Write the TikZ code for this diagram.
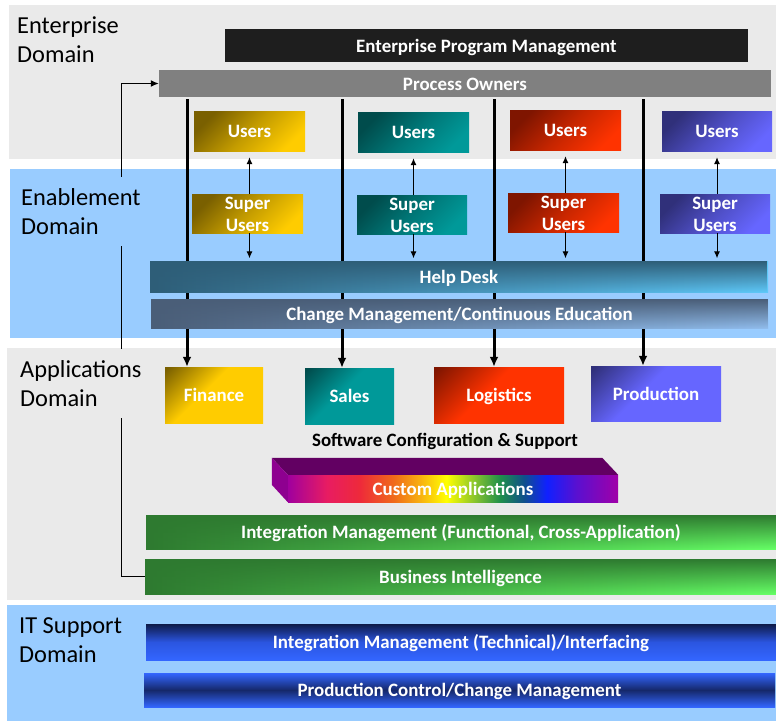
\documentclass[tikz,border=0pt]{standalone}
\usepackage{fontspec}
\setmainfont{Carlito}
\usetikzlibrary{arrows.meta,fadings}

\definecolor{bggrey}{HTML}{EAEAEA}
\definecolor{bgblue}{HTML}{99CCFF}
\definecolor{epmblack}{HTML}{1E1E1E}
\definecolor{pogrey}{HTML}{808080}
\definecolor{golddark}{HTML}{7A6000}
\definecolor{goldlight}{HTML}{FFCC00}
\definecolor{tealdark}{HTML}{004C4C}
\definecolor{teallight}{HTML}{009999}
\definecolor{reddark}{HTML}{7F1500}
\definecolor{redlight}{HTML}{FF3300}
\definecolor{bluedark}{HTML}{30307A}
\definecolor{bluelight}{HTML}{6666FF}
\definecolor{hddark}{HTML}{2E5E78}
\definecolor{hdlight}{HTML}{5EC8F8}
\definecolor{cmdark}{HTML}{4A5E78}
\definecolor{cmlight}{HTML}{90BCEC}
\definecolor{grdark}{HTML}{2E7A30}
\definecolor{grlight}{HTML}{66FF66}
\definecolor{itdark}{HTML}{0E1A48}
\definecolor{itmid}{HTML}{2B55E0}
\definecolor{itlight}{HTML}{3366FF}
\definecolor{pcdark}{HTML}{15286A}
\definecolor{catop}{HTML}{620062}
\definecolor{caside}{HTML}{8E0090}
\definecolor{rb1}{HTML}{A0009E}
\definecolor{rb2}{HTML}{E81C62}
\definecolor{rb3}{HTML}{EE2A3A}
\definecolor{rb4}{HTML}{F06A1A}
\definecolor{rb5}{HTML}{F8B010}
\definecolor{rb6}{HTML}{FFFF00}
\definecolor{rb7}{HTML}{80C030}
\definecolor{rb8}{HTML}{20904A}
\definecolor{rb9}{HTML}{10508A}
\definecolor{rb10}{HTML}{1020FF}
\definecolor{rb11}{HTML}{5A10D0}
\definecolor{rb12}{HTML}{A000A8}

\pgfdeclarehorizontalshading{rainbow}{100bp}{color(0bp)=(rb1); color(25bp)=(rb1);
 color(30.9bp)=(rb2); color(35.9bp)=(rb3); color(41bp)=(rb4); color(45bp)=(rb5);
 color(49bp)=(rb6); color(53.6bp)=(rb7); color(57.1bp)=(rb8); color(60.7bp)=(rb9);
 color(64.2bp)=(rb10); color(68.7bp)=(rb11); color(75bp)=(rb12); color(100bp)=(rb12)}

% application boxes: dark corner at top left, bright elsewhere
\pgfdeclareverticalshading{appgold}{100bp}{color(0bp)=(goldlight); color(56bp)=(goldlight);
 color(70bp)=(golddark!50!goldlight); color(84bp)=(golddark); color(100bp)=(golddark)}
\pgfdeclareverticalshading{appteal}{100bp}{color(0bp)=(teallight); color(56bp)=(teallight);
 color(70bp)=(tealdark!50!teallight); color(84bp)=(tealdark); color(100bp)=(tealdark)}
\pgfdeclareverticalshading{appred}{100bp}{color(0bp)=(redlight); color(56bp)=(redlight);
 color(70bp)=(reddark!50!redlight); color(84bp)=(reddark); color(100bp)=(reddark)}
\pgfdeclareverticalshading{appblue}{100bp}{color(0bp)=(bluelight); color(56bp)=(bluelight);
 color(70bp)=(bluedark!50!bluelight); color(84bp)=(bluedark); color(100bp)=(bluedark)}

\tikzfading[name=topshade, top color=transparent!0, middle color=transparent!60, bottom color=transparent!100]

\begin{document}
\begin{tikzpicture}[x=1pt,y=-1pt,
  lblbase/.style={font=\fontsize{18.9}{22}\selectfont\bfseries, text=white, inner sep=0pt},
  lbl/.style={lblbase, text height=15.5pt, text depth=2.5pt},
  lbltwo/.style={lblbase, align=center},
  dom/.style={font=\fontsize{24.4}{29}\selectfont, text=black, align=left, inner xsep=0pt, inner ysep=0pt, anchor=west},
  diag/.style 2 args={top color=#1, bottom color=#2, middle color=#1!45!#2, shading angle=45},
  appdiag/.style={shade, shading=#1, shading angle=45},
  hbar/.style 2 args={left color=#1, right color=#2,
    path picture={\fill[#1, path fading=topshade, fit fading=true] (path picture bounding box.north west) rectangle (path picture bounding box.south east);}},
  thickarr/.style={line width=3pt, -{Latex[length=10pt,width=9pt]}, shorten <=2pt},
  sarr/.style={line width=1pt, -{Latex[length=7pt,width=6pt]}},
  conn/.style={line width=1.3pt, -{Latex[length=8pt,width=7pt]}}
]
\useasboundingbox (0,0) rectangle (776,721);
\fill[white] (0,0) rectangle (776,721);

% domain backgrounds
\fill[bggrey] (9,5) rectangle (776,159);
\fill[bgblue] (10,169) rectangle (776,338);
\fill[bggrey] (7,348) rectangle (776,600);
\fill[bgblue] (7,605) rectangle (776,721);

% enterprise domain
\node[lbl, fill=epmblack, minimum width=523, minimum height=33] (epm) at (486.5,45.5) {Enterprise Program Management};
\node[lbl, fill=pogrey, minimum width=612, minimum height=27] (po) at (465,83.5) {Process Owners};

\node[lbl, diag={golddark}{goldlight}, minimum width=111, minimum height=40] (u1) at (249.5,131) {Users};
\node[lbl, diag={tealdark}{teallight}, minimum width=111, minimum height=40] (u2) at (413.5,132) {Users};
\node[lbl, diag={reddark}{redlight}, minimum width=111, minimum height=40] (u3) at (565.5,130) {Users};
\node[lbl, diag={bluedark}{bluelight}, minimum width=110, minimum height=40] (u4) at (717,131) {Users};

% enablement domain
\node[lbltwo, diag={golddark}{goldlight}, minimum width=111, minimum height=39] (su1) at (247.5,213.5) {\rule{0pt}{15pt}Super\\Users};
\node[lbltwo, diag={tealdark}{teallight}, minimum width=110, minimum height=39] (su2) at (412,214.5) {\rule{0pt}{15pt}Super\\Users};
\node[lbltwo, diag={reddark}{redlight}, minimum width=111, minimum height=39] (su3) at (563.5,212.5) {\rule{0pt}{15pt}Super\\Users};
\node[lbltwo, diag={bluedark}{bluelight}, minimum width=110, minimum height=39] (su4) at (715,213.5) {\rule{0pt}{15pt}Super\\Users};

% applications domain
\node[lbl, appdiag=appgold, minimum width=98, minimum height=56] (fin) at (214,395) {Finance};
\node[lbl, appdiag=appteal, minimum width=89, minimum height=56] (sal) at (349.5,396) {Sales};
\node[lbl, appdiag=appred, minimum width=130, minimum height=56] (logi) at (499,395) {Logistics};
\node[lbl, appdiag=appblue, minimum width=130, minimum height=55] (prod) at (656,393.5) {Production};

\node[lbl, text=black] (scs) at (445,440) {Software Configuration \& Support};

\node[lbl, shade, shading=rainbow, minimum width=330, minimum height=27] (ca) at (453,488.5) {Custom Applications};
\fill[catop] (ca.north west) -- (ca.north east) -- ++(-16,-17) -- ([shift={(-16,-17)}]ca.north west) -- cycle;
\fill[caside] (ca.north west) -- ++(-16,-17) -- ++(0,27) -- (ca.south west) -- cycle;

\node[lbl, hbar={grdark}{grlight}, minimum width=630, minimum height=34] (ima) at (461,532) {Integration Management (Functional, Cross-Application)};
\node[lbl, hbar={grdark}{grlight}, minimum width=631, minimum height=35] (bi) at (460.5,576.5) {Business Intelligence};

% IT support domain
\node[lbl, top color=itdark, bottom color=itlight, middle color=itmid, minimum width=630, minimum height=36] (imt) at (461,642) {Integration Management (Technical)/Interfacing};
\node[lbl, top color=itlight, bottom color=itlight, middle color=pcdark, minimum width=631, minimum height=34] (pcc) at (459.5,690) {Production Control/Change Management};

% left feedback connector
\draw[conn] (bi.west) -- ++(-23,0) |- (po.west);

% domain labels
\node[dom] (lent) at (17,40) {Enterprise\\Domain};
\node[dom, fill=bgblue, minimum height=69] (lena) at (21,211.5) {Enablement\\Domain};
\node[dom, fill=bggrey, minimum height=69] (lapp) at (20,383.5) {Applications\\Domain};
\node[dom] (lit) at (19,640) {IT Support\\Domain};

% process owner lines
\coordinate (x1) at (187,0);
\coordinate (x2) at (342,0);
\coordinate (x3) at (494,0);
\coordinate (x4) at (643,0);
\draw[thickarr] (po.south -| x1) -- (x1 |- fin.north);
\draw[thickarr] (po.south -| x2) -- (x2 |- sal.north);
\draw[thickarr] (po.south -| x3) -- (x3 |- logi.north);
\draw[thickarr] (po.south -| x4) -- (x4 |- prod.north);

% help desk and change management bars (over the lines)
\node[lbl, hbar={hddark}{hdlight}, minimum width=618, minimum height=31] (hd) at (459,276.5) {Help Desk};
\node[lbl, hbar={cmdark}{cmlight}, minimum width=617, minimum height=29] (cm) at (459.5,313.5) {Change Management/Continuous Education};

% super user arrows
\foreach \i in {1,2,3,4}{
  \draw[sarr, shorten >=6pt] (u\i.south |- su\i.north) -- (u\i.south);
  \draw[sarr, shorten >=2.5pt] (u\i.south |- su\i.south) -- (u\i.south |- hd.north);
}
\end{tikzpicture}
\end{document}
